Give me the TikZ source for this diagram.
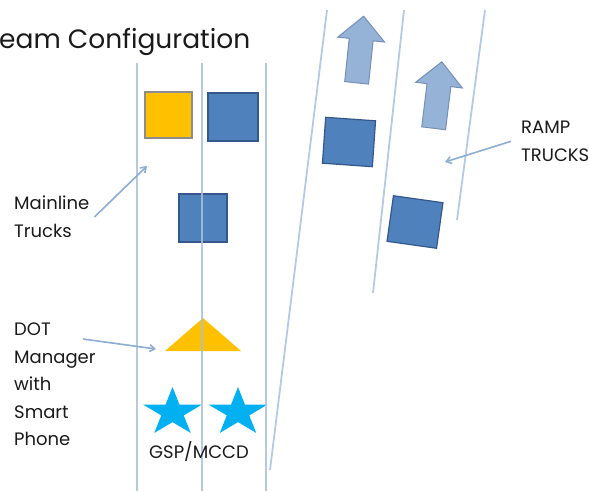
\documentclass[tikz,border=0pt]{standalone}
\usepackage{fontspec}
\setmainfont{Poppins}
\usetikzlibrary{arrows.meta,shapes.geometric,shapes.arrows,positioning}

\definecolor{lane}{HTML}{A9C0DC}
\definecolor{truckblue}{HTML}{4F81BD}
\definecolor{truckedge}{HTML}{34588A}
\definecolor{dotyellow}{HTML}{FFC000}
\definecolor{gspcyan}{HTML}{00B0F0}
\definecolor{rampfill}{HTML}{95B3D7}
\definecolor{rampedge}{HTML}{7590B4}
\definecolor{pointer}{HTML}{8EADD2}
\definecolor{ink}{HTML}{1A1A1A}

% five-point star, squashed a little, centred at (#1,#2)
\newcommand{\gspstar}[2]{%
  \begin{scope}[shift={(#1,#2)}, x=31pt, y=25.4pt]
    \fill[gspcyan] (90:1)
      \foreach \a in {126,198,270,342,54} {-- (\a:0.382) -- (\a+36:1)} -- cycle;
  \end{scope}}

\begin{document}
\begin{tikzpicture}[x=1pt, y=-1pt,
    lbl/.style={font=\fontsize{18}{27.5}\selectfont, text=ink, align=left, inner sep=0pt},
    truck/.style={draw=truckedge, line width=1.2pt, fill=truckblue, minimum width=50pt, minimum height=48pt, inner sep=0pt},
    uparrow/.style={single arrow, draw=rampedge, line width=1pt, fill=rampfill, minimum height=67pt, inner sep=11.5pt, single arrow head extend=11.5pt},
    lanestyle/.style={draw=lane, line width=1.8pt},
    arr/.style={-{Straight Barb[length=5pt, width=7pt]}, draw=pointer, line width=1.6pt}
]
\useasboundingbox (0,0) rectangle (589,491);

% title
\node[font=\fontsize{26.5}{30}\selectfont, text=ink, anchor=base west, inner sep=0pt] (title) at (-1,48) {eam Configuration};

% mainline vehicles
\node[truck, draw=black!45, fill=dotyellow, minimum width=47pt, minimum height=46pt] (dotcar) at (168.5,115) {};
\node[truck] (mtruck1) at (233,117) {};
\node[truck, minimum width=48pt] (mtruck2) at (203,218) {};
\fill[dotyellow] (203,318) -- (241,351) -- (165,351) -- cycle;
\gspstar{172.5}{412.4}
\gspstar{238}{412.4}

% ramp vehicles
\node[truck, rotate=-4, minimum height=46pt] (rtruck1) at (349,142) {};
\node[truck, rotate=-8, minimum height=46pt] (rtruck2) at (415,222) {};
\node[uparrow, rotate=84] (rarrow1) at (359.5,55.5) {};
\node[uparrow, rotate=83] (rarrow2) at (437,101) {};

% lanes
\begin{scope}[opacity=0.85]
\foreach \lx in {137,202,266}
  \draw[lanestyle] (\lx,63) -- (\lx,491);
\draw[lanestyle] (327,10) -- (270,470);
\draw[lanestyle] (404,10) -- (373,293);
\draw[lanestyle] (485,10) -- (457,220);
\end{scope}

% labels
\node[lbl, anchor=north west] (mainline) at (14,196) {Mainline\\Trucks};
\node[lbl, anchor=north west] (dotlbl) at (14,323) {DOT\\Manager\\with\\Smart\\Phone};
\node[lbl, anchor=north west] (ramplbl) at (521,121) {RAMP\\TRUCKS};
\node[lbl, anchor=base] (gsplbl) at (199,458) {GSP/MCCD};

% pointers
\coordinate (mlhead) at (147,166);
\coordinate (dothead) at (156,349);
\coordinate (ramphead) at (445,162);
\coordinate (dottail) at (83,339);
\draw[arr] ([xshift=5pt]mainline.east) -- (mlhead);
\draw[arr] (dottail) -- (dothead);
\draw[arr] ([xshift=-10pt]ramplbl.west) -- (ramphead);
\end{tikzpicture}
\end{document}
